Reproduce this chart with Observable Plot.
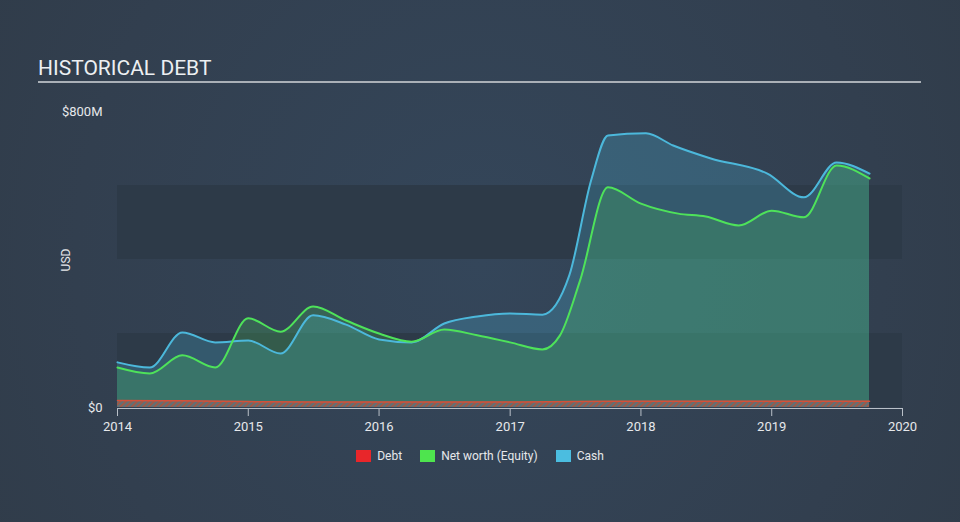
<!DOCTYPE html>
<html>
<head>
<meta charset="utf-8">
<script src="https://cdn.jsdelivr.net/npm/d3@7"></script>
<script src="https://cdn.jsdelivr.net/npm/@observablehq/plot@0.6"></script>
<style>
  html, body { margin: 0; padding: 0; }
  body {
    width: 960px; height: 522px; overflow: hidden; position: relative;
    background: radial-gradient(ellipse 70% 140% at 50% 50%, #34465a 0%, #323f4f 60%, #2f3a46 100%);
    font-family: Roboto, "Open Sans", sans-serif;
  }
  #title {
    position: absolute; left: 38px; top: 56px; font-size: 21px; color: #eceff2;
    font-weight: 400;
  }
  #rule {
    position: absolute; left: 38px; top: 81px; width: 883px; height: 2px; background: #aab0b7;
  }
  #usd {
    position: absolute; left: 66px; top: 260px; font-size: 12px; color: #e6e8eb;
    transform: translate(-50%, -50%) rotate(-90deg); white-space: nowrap;
  }
  #chart { position: absolute; left: 0; top: 0; }
  #legend {
    position: absolute; top: 449px; left: 0; width: 960px; display: flex; justify-content: center;
    font-size: 12px; color: #e6e8eb;
  }
  .item { display: flex; align-items: center; margin: 0 9px; }
  .sw { width: 15px; height: 12px; margin-right: 6px; }
</style>
</head>
<body>
<div id="title">HISTORICAL DEBT</div>
<div id="rule"></div>
<div id="chart"></div>
<div id="usd">USD</div>
<div id="legend"></div>
<script>
// ---- data (USD millions) ----
const cashDates = ["2014-01-01","2014-04-01","2014-07-01","2014-10-01","2015-01-01","2015-04-01","2015-07-01","2015-10-01","2016-01-01","2016-04-01","2016-07-01","2016-10-01","2017-01-01","2017-04-01","2017-06-15","2017-08-15","2017-10-01","2018-01-15","2018-04-01","2018-07-15","2018-12-20","2019-04-01","2019-07-01","2019-10-01"];
const cashValues = [122,108,203,176,181,146,249,224,184,176,227,246,254,251,357,614,735,741,708,673,632,568,662,632];

const equityDates = ["2014-01-01","2014-04-01","2014-07-01","2014-10-01","2015-01-01","2015-04-01","2015-07-01","2015-10-01","2016-01-01","2016-04-01","2016-07-01","2016-10-01","2017-01-01","2017-04-01","2017-05-20","2017-07-15","2017-10-01","2018-01-01","2018-04-15","2018-07-01","2018-10-01","2019-01-01","2019-04-01","2019-07-01","2019-10-01"];
const equityValues = [108,92,141,108,241,205,273,235,200,178,211,195,176,157,195,343,595,551,524,516,492,532,514,654,619];

const debtDates = ["2014-01-01","2014-07-01","2015-01-01","2015-07-01","2016-01-01","2016-07-01","2017-01-01","2017-07-01","2018-01-01","2018-07-01","2019-01-01","2019-07-01","2019-10-01"];
const debtValues = [19,18,16,15,15,15,15,16,17,17,17,17,17];

const yTicks = [0, 800];
const xTickYears = [2014, 2015, 2016, 2017, 2018, 2019, 2020];
const bandRanges = [[0, 200], [400, 600]];

const seriesNames = ["Debt", "Net worth (Equity)", "Cash"];
const seriesColors = ["#e8262a", "#4ee44e", "#4bbde0"];

// ---- build tables ----
const cash = cashDates.map((d, i) => ({date: new Date(d), value: cashValues[i]}));
const equity = equityDates.map((d, i) => ({date: new Date(d), value: equityValues[i]}));
const debt = debtDates.map((d, i) => ({date: new Date(d), value: debtValues[i]}));
const xStart = new Date(xTickYears[0] + "-01-01");
const xEnd = new Date(xTickYears[xTickYears.length - 1] + "-01-01");
const bands = bandRanges.map(([a, b]) => ({x1: xStart, x2: xEnd, y1: a, y2: b}));
const xTicks = xTickYears.map(y => new Date(y + "-01-01"));

const curve = "monotone-x";

const plot = Plot.plot({
  width: 960,
  height: 522,
  marginLeft: 117,
  marginRight: 58,
  marginTop: 111,
  marginBottom: 115,
  style: {background: "transparent", fontFamily: "Roboto, sans-serif", fontSize: "13px", color: "#e0e3e7", overflow: "visible"},
  x: {type: "utc", domain: [xStart, xEnd]},
  y: {domain: [0, 800]},
  marks: [
    Plot.rect(bands, {x1: "x1", x2: "x2", y1: "y1", y2: "y2", fill: "#2d3a48"}),
    Plot.areaY(cash, {x: "date", y: "value", fill: "#4cb8db", fillOpacity: 0.25, curve}),
    Plot.areaY(equity, {x: "date", y: "value", fill: "#4ee25a", fillOpacity: 0.2, curve}),
    Plot.areaY(debt, {x: "date", y: "value", fill: "url(#hatch)", curve}),
    Plot.lineY(debt, {x: "date", y: "value", stroke: "#d4503a", strokeWidth: 1.5, curve}),
    Plot.lineY(cash, {x: "date", y: "value", stroke: "#4cb8db", strokeWidth: 2, curve}),
    Plot.lineY(equity, {x: "date", y: "value", stroke: "#4ee25a", strokeWidth: 2, curve}),
    Plot.ruleY([0], {stroke: "#b9c0c8", strokeWidth: 1, dy: 1}),
    Plot.axisX({ticks: xTicks, tickFormat: d3.utcFormat("%Y"), tickSize: 8, tickPadding: 5, stroke: "#b9c0c8", color: "#e6e8eb", fontSize: 13, label: null, dy: 1}),
    Plot.axisY({ticks: yTicks, tickFormat: d => d === 0 ? "$0" : "$" + d + "M", tickSize: 0, tickPadding: 15, color: "#e6e8eb", fontSize: 13, label: null})
  ]
});

// hatch pattern for debt area
const svg = d3.select(plot);
const defs = svg.insert("defs", ":first-child");
const pat = defs.append("pattern").attr("id", "hatch").attr("patternUnits", "userSpaceOnUse")
  .attr("width", 4).attr("height", 4).attr("patternTransform", "rotate(45)");
pat.append("rect").attr("width", 4).attr("height", 4).attr("fill", "#607076");
pat.append("rect").attr("width", 1.6).attr("height", 4).attr("fill", "#a9553f");

document.getElementById("chart").appendChild(plot);

// legend
const legend = document.getElementById("legend");
seriesNames.forEach((n, i) => {
  const it = document.createElement("div");
  it.className = "item";
  it.innerHTML = `<span class="sw" style="background:${seriesColors[i]}"></span><span>${n}</span>`;
  legend.appendChild(it);
});
</script>
</body>
</html>
